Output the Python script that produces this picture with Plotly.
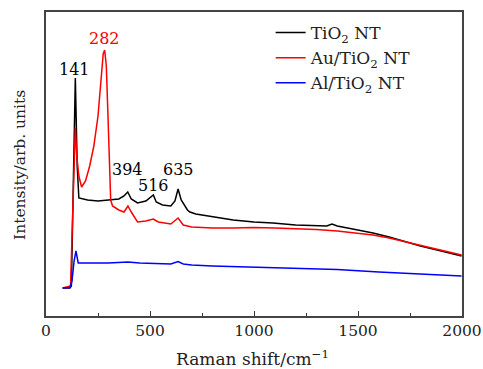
import plotly.graph_objects as go

# Raman shift (cm^-1) and intensity (arb. units)
tio2_x = [80, 115, 122, 132, 141, 150, 158, 200, 250, 300, 350, 375, 393, 410, 440, 480, 500, 516, 530, 560, 600, 620, 635, 650, 680, 692, 720, 800, 900, 1000, 1091, 1200, 1300, 1350, 1375, 1400, 1450, 1500, 1572, 1650, 1734, 1800, 1900, 1998]
tio2_y = [28, 28, 30, 150, 238, 150, 118, 116, 115, 116, 117, 120, 124, 117, 113, 115, 118, 121, 114, 111, 110, 115, 127, 116, 106, 104, 102, 99, 96, 94, 93, 91, 90, 90, 92, 90, 88, 86, 83, 79, 74, 70, 65, 60]

au_x = [80, 118, 128, 135, 141, 148, 158, 171, 190, 210, 230, 250, 265, 275, 282, 290, 298, 305, 311, 320, 350, 375, 394, 410, 440, 480, 516, 540, 600, 635, 660, 700, 800, 900, 1000, 1100, 1200, 1300, 1400, 1500, 1572, 1650, 1734, 1800, 1900, 1998]
au_y = [28, 30, 100, 160, 188, 160, 140, 129, 135, 150, 170, 200, 240, 262, 266, 250, 200, 150, 116, 110, 106, 104, 110, 104, 94, 95, 97, 94, 92, 98, 91, 89, 88, 88, 88.5, 88, 87.5, 86.5, 85, 83, 81, 78, 74, 71, 66, 61]

al_x = [80, 115, 125, 135, 144, 150, 155, 200, 300, 394, 450, 600, 635, 660, 700, 800, 1000, 1200, 1400, 1600, 1800, 1998]
al_y = [28, 28.5, 35, 55, 65, 56, 53, 53, 53, 54, 53, 52, 54.5, 52, 51, 50, 49, 48, 46.5, 44, 42, 40]

peak_labels = ["141", "282", "394", "516", "635"]
peak_x = [139, 282, 394, 516, 635]
peak_y = [247, 278, 147, 131, 147]
peak_colors = ["black", "red", "black", "black", "black"]

series_names = ["TiO<sub>2</sub> NT", "Au/TiO<sub>2</sub> NT", "Al/TiO<sub>2</sub> NT"]
series_colors = ["#000000", "#ff0000", "#0000ff"]

FONT = "DejaVu Serif"

fig = go.Figure()
for xs, ys, name, col in zip([tio2_x, au_x, al_x], [tio2_y, au_y, al_y], series_names, series_colors):
    fig.add_trace(go.Scatter(x=xs, y=ys, mode="lines", name=name,
                             line=dict(color=col, width=1.5)))

for t, x, y, c in zip(peak_labels, peak_x, peak_y, peak_colors):
    fig.add_annotation(x=x, y=y, text=t, showarrow=False,
                       font=dict(family=FONT, size=16, color=c))

# axis titles as paper-anchored annotations
fig.add_annotation(xref="paper", yref="paper", x=0.497, y=-0.138, yanchor="middle",
                   text="Raman shift/cm<sup>−1</sup>", showarrow=False,
                   font=dict(family=FONT, size=17, color="#222"))
fig.add_annotation(xref="paper", yref="paper", x=-0.0625, y=0.497, xanchor="center",
                   text="Intensity/arb. units", textangle=-90, showarrow=False,
                   font=dict(family=FONT, size=15.5, color="#222"))

fig.update_layout(
    width=483, height=369,
    margin=dict(l=46, r=21, t=12, b=53, autoexpand=False),
    paper_bgcolor="white", plot_bgcolor="white",
    font=dict(family=FONT, size=15, color="#222"),
    showlegend=True,
    legend=dict(x=0.54, y=0.99, xanchor="left", yanchor="top",
                bgcolor="rgba(0,0,0,0)", font=dict(family=FONT, size=17),
                tracegroupgap=0, itemwidth=30),
)
fig.update_xaxes(range=[0, 2000], tickvals=[0, 500, 1000, 1500, 2000],
                 ticks="inside", ticklen=5, tickwidth=1, tickcolor="#333",
                 minor=dict(tickvals=[250, 750, 1250, 1750], ticks="inside", ticklen=3, tickcolor="#333"),
                 showline=True, linecolor="#444", linewidth=1.5, mirror=True,
                 showgrid=False, zeroline=False, automargin=False,
                 ticklabeloverflow="allow",
                 tickfont=dict(family=FONT, size=15.5))
fig.update_yaxes(range=[0, 304], showticklabels=False, ticks="",
                 showline=True, linecolor="#444", linewidth=1.5, mirror=True,
                 showgrid=False, zeroline=False, automargin=False)

fig.write_html("out.html", config={"displayModeBar": False},
               post_script="document.body.style.margin='0';document.body.style.overflow='hidden';")
